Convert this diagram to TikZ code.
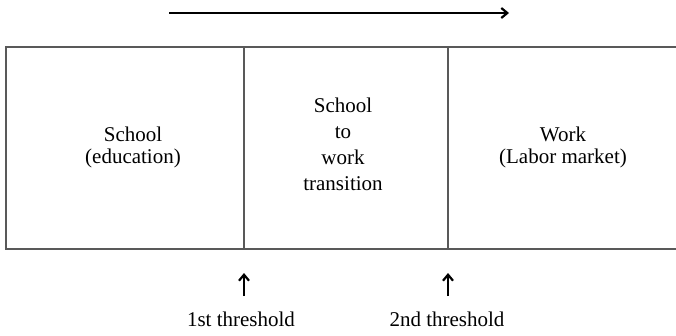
\documentclass[tikz,border=0pt]{standalone}
\usepackage{fontspec}
\setmainfont{Liberation Serif}
\usetikzlibrary{positioning,arrows.meta}

\begin{document}
\begin{tikzpicture}[x=1pt,y=-1pt,
  stage/.style={align=center,inner sep=0pt,font=\fontsize{21}{22}\selectfont},
  gate/.style={inner sep=0pt,font=\fontsize{21}{24}\selectfont},
  flow/.style={line width=2.2pt,-{Straight Barb[length=6pt,width=10pt]}}]
\useasboundingbox (0,0) rectangle (676,335);
% three stages in one frame
\draw[line width=1.4pt,black!65] (6,47) rectangle (690,249);
\draw[line width=1.4pt,black!65] (244,47) -- (244,249);
\draw[line width=1.4pt,black!65] (448,47) -- (448,249);
\node[stage] (school) at (133,147) {School\\(education)};
\node[stage,font=\fontsize{21}{26}\selectfont] (trans) at (343,144) {School\\to\\work\\transition};
\node[stage] (work) at (563,147) {Work\\(Labor market)};
% direction of time
\coordinate (t0) at (169,13);
\coordinate (t1) at (509,13);
\draw[flow] (t0) -- (t1);
% the two thresholds
\node[gate,anchor=base] (first) at (241,326) {1st threshold};
\node[gate,anchor=base] (second) at (447,326) {2nd threshold};
\coordinate (f0) at (244,296);
\coordinate (f1) at (244,273);
\coordinate (s0) at (448,296);
\coordinate (s1) at (448,273);
\draw[flow] (f0) -- (f1);
\draw[flow] (s0) -- (s1);
\end{tikzpicture}
\end{document}
